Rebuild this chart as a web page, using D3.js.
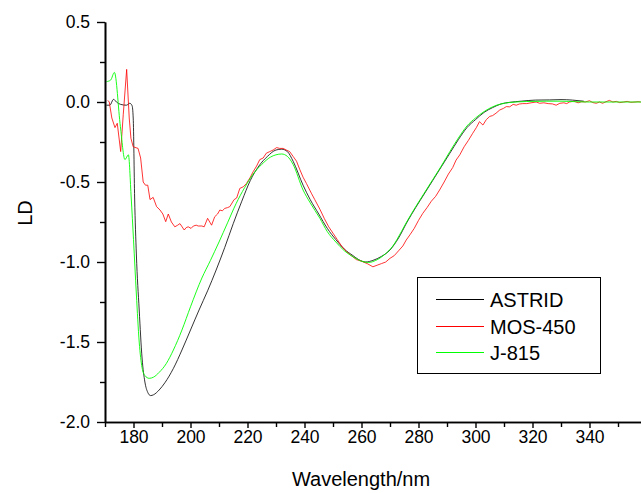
<!DOCTYPE html>
<html>
<head>
<meta charset="utf-8">
<script src="https://cdn.jsdelivr.net/npm/d3@7"></script>
<style>
  body { margin: 0; background: #fff; }
  svg { display: block; }
  text { font-family: Arial, "Liberation Sans", sans-serif; fill: #000; }
</style>
</head>
<body>
<div id="ld_chart"></div>
<script>
let seriesNames = ["ASTRID", "MOS-450", "J-815"]
let xTickValues = [180, 200, 220, 240, 260, 280, 300, 320, 340]
let xMinorValues = [170, 190, 210, 230, 250, 270, 290, 310, 330, 350]
let yTickValues = [-2.0, -1.5, -1.0, -0.5, 0.0, 0.5]
let yMinorValues = [-1.75, -1.25, -0.75, -0.25, 0.25]

// ASTRID (black)
let astridWl = [170.5, 171.7, 173, 174, 175.5, 177.5, 178.7, 179.5, 179.9, 180.4, 181, 182, 183, 184, 185, 186, 187, 189, 191, 194, 197, 200, 203, 206, 209, 212, 215, 218, 221, 224, 227, 230, 232, 234, 236, 239.5, 242, 245, 248, 251, 254, 257, 259, 261.5, 264, 267, 270, 273, 276, 279, 282, 285, 288, 291, 294, 297, 300, 303, 306, 309, 312, 316, 321, 326, 330, 334, 338]
let astridLd = [-0.02, -0.02, 0.017, 0.0, -0.015, -0.02, -0.008, -0.023, -0.1, -0.6, -0.95, -1.3, -1.6, -1.75, -1.815, -1.835, -1.83, -1.80, -1.755, -1.665, -1.55, -1.425, -1.30, -1.18, -1.05, -0.91, -0.76, -0.62, -0.49, -0.40, -0.34, -0.30, -0.295, -0.31, -0.37, -0.52, -0.61, -0.70, -0.79, -0.86, -0.92, -0.96, -0.985, -1.0, -0.99, -0.965, -0.925, -0.85, -0.75, -0.66, -0.575, -0.49, -0.405, -0.32, -0.235, -0.16, -0.11, -0.065, -0.035, -0.012, -0.002, 0.005, 0.012, 0.013, 0.015, 0.012, 0.005]

// MOS-450 (red)
let mosWl = [171, 171.5, 172.4, 173.5, 174.3, 175.5, 176.4, 177.6, 178.5, 179.1, 179.9, 181.6, 182.5, 183.4, 184.2, 185, 185.8, 186.9, 188.1, 189.3, 190.3, 191.3, 192.2, 193.3, 194.5, 195.5, 196.3, 197.8, 198.5, 199.2, 200.2, 201, 202, 202.7, 204, 204.8, 206, 207.4, 208.5, 209.5, 210.3, 211.2, 212, 213, 213.8, 215.3, 216.2, 217.3, 218.5, 219.6, 221, 222, 223.2, 224.3, 225.5, 226.6, 227.8, 229, 230.2, 231.3, 232.5, 233.6, 234.8, 236, 237.2, 238.3, 239.5, 240.7, 242.4, 243.6, 245.4, 247, 248.5, 250, 251.5, 253, 254.7, 256.4, 258.2, 260, 262, 264, 265.5, 267, 268.5, 270, 271.5, 273, 274.5, 275.7, 277, 278.5, 280, 281.5, 283, 284.5, 286, 287.4, 289, 290.5, 292, 293.2, 294.5, 296, 297.5, 299, 300.3, 301.4, 302.6, 303.8, 305, 306, 307.2, 308.5, 309.8, 310.8, 312, 313.2, 314.3, 315.4, 316.6, 318, 319.5, 321.3, 322.5, 324, 325.5, 327, 328.3, 329.6, 331, 332, 333, 334.5, 336, 337.3, 338.5, 340, 341.2, 342.4, 343.5, 344.6, 345.8, 347, 348.2, 349.4, 350.6, 352, 353.2, 354.5, 356, 357, 358]
let mosLd = [0.01, 0.0, -0.10, -0.16, -0.133, -0.31, -0.08, 0.204, -0.10, -0.227, -0.28, -0.29, -0.35, -0.50, -0.52, -0.52, -0.61, -0.596, -0.654, -0.675, -0.70, -0.748, -0.70, -0.75, -0.78, -0.77, -0.76, -0.80, -0.785, -0.78, -0.79, -0.775, -0.77, -0.775, -0.775, -0.78, -0.727, -0.77, -0.717, -0.70, -0.675, -0.68, -0.665, -0.66, -0.654, -0.61, -0.60, -0.54, -0.53, -0.51, -0.47, -0.435, -0.40, -0.36, -0.35, -0.32, -0.31, -0.30, -0.285, -0.29, -0.29, -0.30, -0.31, -0.34, -0.37, -0.42, -0.47, -0.51, -0.57, -0.61, -0.67, -0.73, -0.78, -0.82, -0.86, -0.90, -0.935, -0.96, -0.985, -0.995, -1.01, -1.03, -1.02, -1.01, -1.0, -0.977, -0.96, -0.93, -0.90, -0.8625, -0.83, -0.79, -0.74, -0.696, -0.66, -0.62, -0.59, -0.55, -0.50, -0.45, -0.41, -0.3625, -0.33, -0.28, -0.24, -0.196, -0.16, -0.123, -0.144, -0.11, -0.09, -0.085, -0.07, -0.05, -0.04, -0.029, -0.03, -0.015, -0.02, -0.0125, -0.01, -0.01, -0.005, 0.0, -0.008, -0.005, -0.01, -0.012, -0.02, -0.008, -0.005, -0.01, 0.0, 0.005, -0.005, 0.002, 0.0, 0.008, -0.004, -0.008, 0.0, -0.008, 0.002, 0.01, 0.0, 0.004, -0.004, 0.0, 0.004, -0.002, 0.0, 0.002, 0.0]

// J-815 (green)
let j815Wl = [170.5, 172, 173.3, 175.4, 177, 178.2, 179.2, 180, 181, 182, 183, 184, 185.5, 187, 189, 191.5, 194, 197, 200, 204, 207, 210, 213, 216, 219, 222, 225, 228, 230, 232, 234, 236, 239.5, 242, 245.4, 248, 251, 254, 257, 260, 262.5, 265, 268, 271, 274, 276, 279, 282, 285, 288, 291, 294, 297, 300, 303, 306, 309, 312, 318, 325, 330, 335, 340, 345, 350, 355, 360]
let j815Ld = [0.127, 0.1375, 0.185, -0.154, -0.36, -0.33, -0.6, -0.86, -1.2, -1.5, -1.66, -1.71, -1.727, -1.72, -1.69, -1.635, -1.55, -1.425, -1.28, -1.10, -0.99, -0.875, -0.755, -0.635, -0.535, -0.45, -0.39, -0.345, -0.33, -0.325, -0.34, -0.39, -0.55, -0.63, -0.727, -0.81, -0.875, -0.93, -0.967, -0.995, -1.003, -0.99, -0.955, -0.9, -0.81, -0.745, -0.655, -0.57, -0.485, -0.40, -0.31, -0.225, -0.15, -0.10, -0.06, -0.03, -0.012, -0.003, 0.003, 0.005, 0.005, 0.002, 0.0, 0.0, 0.0, 0.0, 0.0]

let colors = ["#000000", "#ff0000", "#00ff00"]
let widths = [0.8, 0.8, 0.9]

let series = [
  {name: seriesNames[0], wl: astridWl, ld: astridLd, curve: d3.curveMonotoneX},
  {name: seriesNames[1], wl: mosWl, ld: mosLd, curve: d3.curveLinear},
  {name: seriesNames[2], wl: j815Wl, ld: j815Ld, curve: d3.curveMonotoneX}
]

let svg = d3.select("#ld_chart")
  .append("svg")
  .attr("width", 641)
  .attr("height", 493)

let margin = {top: 22, left: 105, bottom: 71}
let height = 493 - margin.top - margin.bottom

//X axis
let x = d3.scaleLinear()
  .domain([170, 360])
  .range([margin.left, margin.left + 190 * 2.85])

//Y axis
let y = d3.scaleLinear()
  .domain([-2, 0.5])
  .range([margin.top + height, margin.top])

let line = (s) => d3.line()
  .x((d, i) => x(s.wl[i]))
  .y(d => y(d))
  .curve(s.curve)

svg.selectAll(".ld_line")
  .data(series)
  .enter()
  .append("path")
  .attr("class", "ld_line")
  .attr("fill", "none")
  .attr("stroke", (d, i) => colors[i])
  .attr("stroke-width", (d, i) => widths[i])
  .attr("d", d => line(d)(d.ld))

let x_minor = svg.append("g")
  .attr("transform", "translate(0," + y(-2) + ")")
  .call(d3.axisBottom(x).tickValues(xMinorValues).tickSize(5).tickSizeOuter(0).tickFormat(""))

let x_axis = svg.append("g")
  .attr("transform", "translate(0," + y(-2) + ")")
  .call(d3.axisBottom(x).tickValues(xTickValues).tickSize(6).tickPadding(3).tickSizeOuter(0))

let y_minor = svg.append("g")
  .attr("transform", "translate(" + margin.left + ",0)")
  .call(d3.axisLeft(y).tickValues(yMinorValues).tickSize(5).tickSizeOuter(0).tickFormat(""))

let y_axis = svg.append("g")
  .attr("transform", "translate(" + margin.left + ",0)")
  .call(d3.axisLeft(y).tickValues(yTickValues).tickSize(8).tickPadding(7).tickSizeOuter(0).tickFormat(d => d.toFixed(1)))

svg.selectAll(".domain").attr("stroke-width", 1.6)
svg.selectAll(".tick line").attr("stroke-width", 1.4)
svg.selectAll(".tick text")
  .style("font-family", "Arial, 'Liberation Sans', sans-serif")
  .style("font-size", "17.5px")

svg.append("text")
  .text("Wavelength/nm")
  .attr("x", 361)
  .attr("y", 486)
  .style("text-anchor", "middle")
  .style("font-size", "20px")

svg.append("text")
  .text("LD")
  .attr("transform", "translate(32,213) rotate(-90)")
  .style("text-anchor", "middle")
  .style("font-size", "20px")

// legend
let legend = svg.append("g")

legend.append("rect")
  .attr("x", 417.5)
  .attr("y", 277.5)
  .attr("width", 183)
  .attr("height", 96)
  .attr("fill", "#fff")
  .attr("stroke", "#000")
  .attr("stroke-width", 1)

let rows = [299.5, 326.5, 352.5]

legend.selectAll(".legend_line")
  .data(seriesNames)
  .enter()
  .append("line")
  .attr("x1", 436)
  .attr("x2", 484)
  .attr("y1", (d, i) => rows[i])
  .attr("y2", (d, i) => rows[i])
  .attr("stroke", (d, i) => colors[i])
  .attr("stroke-width", (d, i) => widths[i] + 0.3)

legend.selectAll(".legend_text")
  .data(seriesNames)
  .enter()
  .append("text")
  .text(d => d)
  .attr("x", 490)
  .attr("y", (d, i) => rows[i] + 7)
  .style("font-size", "20px")
</script>
</body>
</html>
